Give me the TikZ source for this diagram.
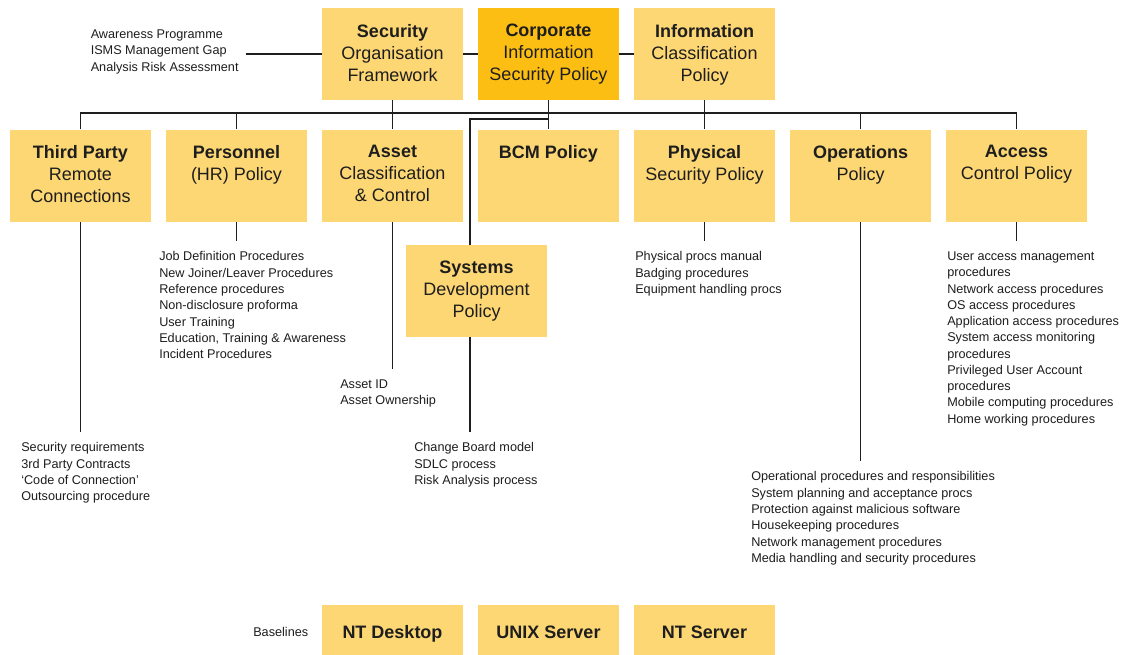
\documentclass[tikz,border=0pt]{standalone}
\usepackage{fontspec}
\setmainfont{Liberation Sans}
\usepackage{tikz}
\definecolor{polyellow}{HTML}{FDD774}
\definecolor{polorange}{HTML}{FDBE14}
\definecolor{linegrey}{HTML}{1E1E1E}
\newcommand{\polfont}{\fontsize{13.5}{16.5}\selectfont}
\newcommand{\procfont}{\fontsize{9.5}{12.2}\selectfont}
\tikzset{
    polnode/.style={inner sep=0pt,minimum width=105.75pt,minimum height=69pt,fill=polyellow},
    corpnode/.style={polnode,fill=polorange},
    basenode/.style={polnode,minimum height=40.5pt,font=\polfont,text=linegrey,text height=9.8pt,text depth=0pt},
    poltext/.style={anchor=north,align=center,inner sep=0pt,yshift=-12pt,font=\polfont,text=linegrey},
    proclist/.style={anchor=north west,align=left,inner sep=0pt,font=\procfont,text=linegrey},
    conn/.style={draw=linegrey,line width=1.4pt},
    listgap/.style={shorten >=8pt}
}

\begin{document}
\begin{tikzpicture}[x=0.75pt,y=-0.75pt]

\path[use as bounding box,fill=white] (0,0) rectangle (1123,654);

% top level policies
\node[polnode,label={[poltext]north:{\textbf{Security}\\Organisation\\Framework}}] (SOF) at (392.5,54) {};
\node[corpnode,label={[poltext]north:{\textbf{Corporate}\\Information\\Security Policy}}] (CISP) at (548.5,54) {};
\node[polnode,label={[poltext]north:{\textbf{Information}\\Classification\\Policy}}] (ICP) at (704.5,54) {};

% second level policies
\node[polnode,label={[poltext]north:{\textbf{Third Party}\\Remote\\Connections}}] (TP) at (80.5,175.5) {};
\node[polnode,label={[poltext]north:{\textbf{Personnel}\\(HR) Policy}}] (HR) at (236.5,175.5) {};
\node[polnode,label={[poltext]north:{\textbf{Asset}\\Classification\\\& Control}}] (ACC) at (392.5,175.5) {};
\node[polnode,label={[poltext]north:{\textbf{BCM Policy}}}] (BCM) at (548.5,175.5) {};
\node[polnode,label={[poltext]north:{\textbf{Physical}\\Security Policy}}] (PSP) at (704.5,175.5) {};
\node[polnode,label={[poltext]north:{\textbf{Operations}\\Policy}}] (OPS) at (860.5,175.5) {};
\node[polnode,label={[poltext]north:{\textbf{Access}\\Control Policy}}] (ACP) at (1016.5,175.5) {};
\node[polnode,label={[poltext]north:{\textbf{Systems}\\Development\\Policy}}] (SDP) at (476.5,291) {};

% procedure lists
\node[proclist] (AWR) at (90.5,29.7) {Awareness Programme\\ISMS Management Gap\\Analysis Risk Assessment};
\node[proclist] (TPL) at (21,442.5) {Security requirements\\3rd Party Contracts\\`Code of Connection'\\Outsourcing procedure};
\node[proclist] (HRL) at (159,251.5) {Job Definition Procedures\\New Joiner/Leaver Procedures\\Reference procedures\\Non-disclosure proforma\\User Training\\Education, Training \& Awareness\\Incident Procedures};
\node[proclist] (ACCL) at (340,379.5) {Asset ID\\Asset Ownership};
\node[proclist] (SDPL) at (414,442.5) {Change Board model\\SDLC process\\Risk Analysis process};
\node[proclist] (PSPL) at (635,251.5) {Physical procs manual\\Badging procedures\\Equipment handling procs};
\node[proclist] (OPSL) at (751,471.5) {Operational procedures and responsibilities\\System planning and acceptance procs\\Protection against malicious software\\Housekeeping procedures\\Network management procedures\\Media handling and security procedures};
\node[proclist] (ACPL) at (947,251.5) {User access management\\procedures\\Network access procedures\\OS access procedures\\Application access procedures\\System access monitoring\\procedures\\Privileged User Account\\procedures\\Mobile computing procedures\\Home working procedures};

% baselines
\node[proclist,anchor=west] (BSL) at (253,632) {Baselines};
\node[basenode] (NTD) at (392.5,632) {\textbf{NT Desktop}};
\node[basenode] (UNX) at (548.5,632) {\textbf{UNIX Server}};
\node[basenode] (NTS) at (704.5,632) {\textbf{NT Server}};

\coordinate (BUS) at (0,113);
\coordinate (SDPJ) at (470,119);

\draw[conn,shorten <=5pt] (SOF.west -| AWR.east) -- (SOF.west);
\draw[conn] (SOF.east) -- (CISP.west)
            (CISP.east) -- (ICP.west);
\draw[conn] (TP.north) |- (ACP.north |- BUS) -- (ACP.north);
\draw[conn] (HR.north) -- (HR.north |- BUS)
            (OPS.north) -- (OPS.north |- BUS);
\draw[conn] (SOF.south) -- (ACC.north)
            (CISP.south) -- (BCM.north)
            (ICP.south) -- (PSP.north);
\draw[conn] (CISP.south |- SDPJ) -- (SDPJ) -- (SDPJ |- SDP.north);

\draw[conn,listgap] (TP.south) -- (TP.south |- TPL.north);
\draw[conn,listgap] (HR.south) -- (HR.south |- HRL.north);
\draw[conn,listgap] (ACC.south) -- (ACC.south |- ACCL.north);
\draw[conn,listgap] (SDPJ |- SDP.south) -- (SDPJ |- SDPL.north);
\draw[conn,listgap] (PSP.south) -- (PSP.south |- PSPL.north);
\draw[conn,listgap] (OPS.south) -- (OPS.south |- OPSL.north);
\draw[conn,listgap] (ACP.south) -- (ACP.south |- ACPL.north);

\end{tikzpicture}
\end{document}
